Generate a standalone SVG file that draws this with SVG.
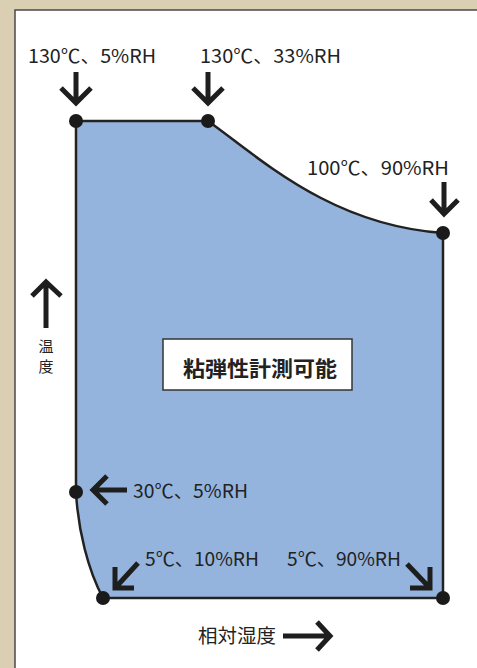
<svg xmlns="http://www.w3.org/2000/svg" width="477" height="668" viewBox="0 0 477 668">
<style>
.lbl{font-family:"Noto Sans CJK JP","Liberation Sans",sans-serif;font-size:19px;fill:#222}
.arr{fill:none;stroke:#1e1e1e;stroke-width:5;stroke-linecap:butt;stroke-linejoin:miter}
.dot{fill:#1a1a1a}
</style>
<rect x="0" y="0" width="477" height="668" fill="#dbcfb3"/>
<rect x="15" y="10" width="470" height="670" fill="#ffffff" stroke="#4a4a4a" stroke-width="1.5"/>
<g id="region">
<path d="M76,121 L208,121 C260,158 330,225 443,233 L443,598 L103,598 C88,570 78,530 76,492 Z" fill="#94b4dd" stroke="#222" stroke-width="2.5"/>
</g>
<g id="center-label">
<rect x="163" y="339" width="189" height="51" fill="#fff" stroke="#333" stroke-width="1.5"/>
<text x="183" y="376" textLength="154" lengthAdjust="spacingAndGlyphs" style="font-family:'Noto Sans CJK JP',sans-serif;font-size:21px;font-weight:bold;fill:#222">粘弾性計測可能</text>
</g>
<g id="connectors">
<path class="arr" d="M76,72 V101 M61,88 L76,103 L91,88"/>
<path class="arr" d="M208,72 V101 M193,88 L208,103 L223,88"/>
<path class="arr" d="M444,182 V213 M431,200 L444,214 L458,200"/>
<path class="arr" d="M127,490 H95 M107,476 L93,490 L107,504"/>
<path class="arr" d="M138,563 L117,586 M115,567 V588 H134"/>
<path class="arr" d="M407,564 L428,586 M430,567 V588 H410"/>
<path class="arr" d="M46,328 V284 M32,296 L46,282 L61,296"/>
<path class="arr" d="M283,636 H328 M317,622 L330,636 L317,650"/>
</g>
<g id="points">
<circle class="dot" cx="76" cy="121" r="7"/>
<circle class="dot" cx="208" cy="121" r="7"/>
<circle class="dot" cx="443" cy="233" r="7"/>
<circle class="dot" cx="76" cy="492" r="7"/>
<circle class="dot" cx="103" cy="598" r="7"/>
<circle class="dot" cx="443" cy="598" r="7"/>
</g>
<g id="labels">
<text class="lbl" x="28" y="63" textLength="128" lengthAdjust="spacingAndGlyphs">130℃、5%RH</text>
<text class="lbl" x="200" y="63" textLength="141" lengthAdjust="spacingAndGlyphs">130℃、33%RH</text>
<text class="lbl" x="307" y="175" textLength="142" lengthAdjust="spacingAndGlyphs">100℃、90%RH</text>
<text class="lbl" x="133" y="498" textLength="115" lengthAdjust="spacingAndGlyphs">30℃、5%RH</text>
<text class="lbl" x="145" y="566" textLength="114" lengthAdjust="spacingAndGlyphs">5℃、10%RH</text>
<text class="lbl" x="287" y="566" textLength="114" lengthAdjust="spacingAndGlyphs">5℃、90%RH</text>
<text class="lbl" x="198" y="643" textLength="78" lengthAdjust="spacingAndGlyphs">相対湿度</text>
<text class="lbl" x="46" y="352" text-anchor="middle" style="font-size:15px">温</text>
<text class="lbl" x="46" y="372" text-anchor="middle" style="font-size:15px">度</text>
</g>
</svg>
